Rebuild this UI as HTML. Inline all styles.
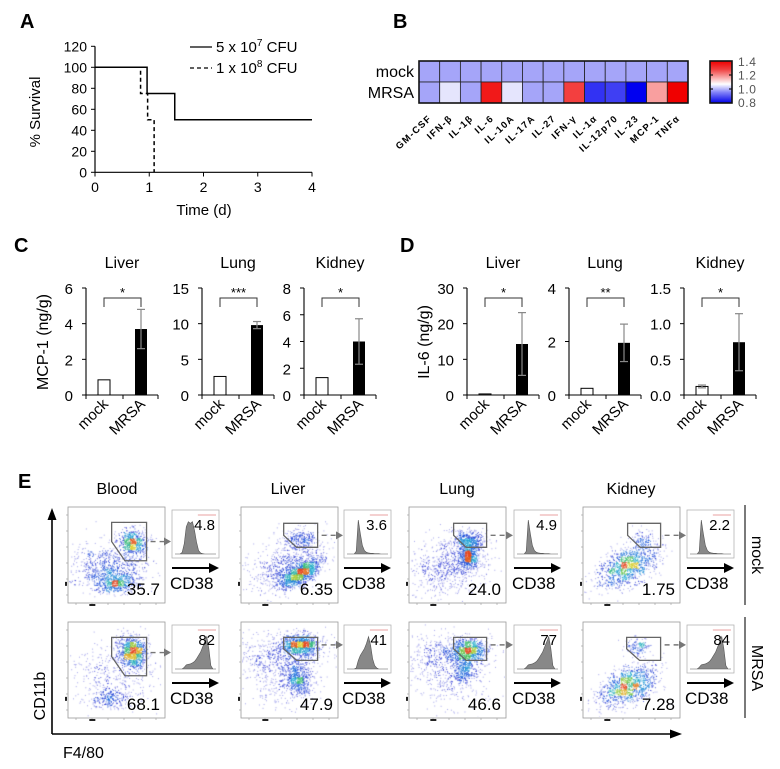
<!DOCTYPE html>
<html><head><meta charset="utf-8"><style>
body{margin:0;background:#fff;}
#wrap{position:relative;width:780px;height:769px;overflow:hidden;font-family:"Liberation Sans",sans-serif;}
svg{position:absolute;left:0;top:0;}
canvas{position:absolute;}
</style></head><body>
<div id="wrap">
<svg id="s" width="780" height="769" viewBox="0 0 780 769"></svg>
</div>
<script>
// ---------- data ----------
const survTimes = [0, 1, 2, 3, 4];
const survTicks = [0, 20, 40, 60, 80, 100, 120];
const solidT = [0, 0.96, 0.96, 1.47, 1.47, 4];
const solidV = [100, 100, 75, 75, 50, 50];
const dashT = [0, 0.84, 0.84, 0.97, 0.97, 1.09, 1.09];
const dashV = [100, 100, 75, 75, 50, 50, 0];

const cytokines = ["GM-CSF","IFN-β","IL-1β","IL-6","IL-10A","IL-17A","IL-27","IFN-γ","IL-1α","IL-12p70","IL-23","MCP-1","TNFα"];
const mockVals = [0.93,0.93,0.93,0.93,0.93,0.93,0.93,0.93,0.93,0.93,0.93,0.93,0.93];
const mrsaVals = [0.93,0.98,0.93,1.36,0.98,0.93,0.93,1.30,0.84,0.85,0.80,1.15,1.40];
const cbarTicks = ["1.4","1.2","1.0","0.8"];

const organs = ["Liver","Lung","Kidney"];
const mcpMax = [6,15,8];
const mcpTicks = [[0,2,4,6],[0,5,10,15],[0,2,4,6,8]];
const mcpMock = [0.85,2.6,1.3];
const mcpMockErr = [0,0,0];
const mcpMrsa = [3.7,9.8,4.0];
const mcpMrsaErr = [1.1,0.5,1.7];
const mcpStars = ["*","***","*"];
const il6Max = [30,4,1.5];
const il6Ticks = [[0,10,20,30],[0,2,4],[0,0.5,1.0,1.5]];
const il6TickFmt = [0,0,1];
const il6Mock = [0.3,0.25,0.12];
const il6MockErr = [0,0,0.02];
const il6Mrsa = [14.3,1.95,0.74];
const il6MrsaErr = [8.8,0.7,0.4];
const il6Stars = ["*","**","*"];

const tissues = ["Blood","Liver","Lung","Kidney"];
const mockPct = ["35.7","6.35","24.0","1.75"];
const mrsaPct = ["68.1","47.9","46.6","7.28"];
const mockCd38 = ["4.8","3.6","4.9","2.2"];
const mrsaCd38 = ["82","41","77","84"];
const histBlood = [0,0,0,0.05,0.3,0.8,0.95,0.9,0.95,0.7,0.35,0.1,0.03,0.01,0,0,0,0,0,0];
const histNarrow = [0,0,0,0,0.08,1,0.6,0.25,0.1,0.05,0.03,0.02,0.02,0.01,0.01,0.01,0,0,0,0];
const histMrsa = [0,0,0,0,0.05,0.12,0.14,0.15,0.18,0.22,0.3,0.4,0.5,0.65,0.8,0.95,0.6,0.1,0,0];
const histLiverMrsa = [0,0,0,0,0.03,0.25,0.4,0.5,0.6,0.75,0.95,0.7,0.3,0.1,0.03,0,0,0,0,0];

// ---------- helpers ----------
const NS="http://www.w3.org/2000/svg";
const S=document.getElementById('s');
function el(tag,attrs,parent,text){const e=document.createElementNS(NS,tag);for(const k in attrs)e.setAttribute(k,attrs[k]);if(text!==undefined)e.textContent=text;(parent||S).appendChild(e);return e;}
function line(x1,y1,x2,y2,st,w,parent,dash){const a={x1,y1,x2,y2,stroke:st||'#000','stroke-width':w||1};if(dash)a['stroke-dasharray']=dash;return el('line',a,parent);}

[["A",20,28],["B",393,28],["C",14,252],["D",400,252],["E",18,488]].forEach(p=>{
 const t=el('text',{x:p[1],y:p[2],'font-size':20,'font-weight':'bold'},S,p[0]);
 
 
});

// ---------- Panel A ----------
const gA=el('g',{});


const xA=t=>95+t*54.25, yA=v=>172.3-v*1.05;
line(95,yA(0),95,yA(120),'#000',1.2,gA);
line(95,172.3,312,172.3,'#000',1.2,gA);
survTicks.forEach(v=>{line(91,yA(v),95,yA(v),'#000',1,gA);
 el('text',{x:87,y:yA(v)+5,'font-size':14,'text-anchor':'end'},gA,String(v));});
survTimes.forEach(t=>{line(xA(t),172.3,xA(t),176.5,'#000',1,gA);
 el('text',{x:xA(t),y:192,'font-size':14,'text-anchor':'middle'},gA,String(t));});
const yl=el('text',{x:0,y:0,'font-size':15,'text-anchor':'middle',transform:'translate(40,112) rotate(-90)'},gA,'% Survival');

const xl=el('text',{x:204,y:215,'font-size':15,'text-anchor':'middle'},gA,'Time (d)');

function stepPath(T,V){return T.map((t,i)=>(i?'L':'M')+xA(t)+','+yA(V[i])).join(' ');}
const ps=el('path',{d:stepPath(solidT,solidV),fill:'none',stroke:'#000','stroke-width':1.5},gA);

const pd=el('path',{d:stepPath(dashT,dashV),fill:'none',stroke:'#000','stroke-width':1.5,'stroke-dasharray':'4,3'},gA);

line(190,47,212,47,'#000',1.3,gA);
line(190,68,212,68,'#000',1.3,gA,'4,3');
const lg1=el('text',{x:216,y:52,'font-size':15},gA);

lg1.innerHTML='5 x 10<tspan dy="-6" font-size="10">7</tspan><tspan dy="6"> CFU</tspan>';
const lg2=el('text',{x:216,y:73,'font-size':15},gA);

lg2.innerHTML='1 x 10<tspan dy="-6" font-size="10">8</tspan><tspan dy="6"> CFU</tspan>';

// ---------- Panel B ----------
const gB=el('g',{});


function hcol(v){let r,g,b;if(v<1){const t=Math.min(1,(1-v)/0.2);r=255*(1-t);g=255*(1-t);b=255-15*t;}else{const t=Math.min(1,(v-1)/0.4);r=255-15*t;g=255*(1-t);b=255*(1-t);}return `rgb(${r|0},${g|0},${b|0})`;}
const hx0=419,hw=(688-419)/13,hy0=61,hh=21;
[mockVals,mrsaVals].forEach((row,ri)=>{row.forEach((v,ci)=>{
 const r=el('rect',{x:hx0+ci*hw,y:hy0+ri*hh,width:hw,height:hh,fill:hcol(v),stroke:'#222','stroke-width':0.8},gB);
 
});});
el('rect',{x:hx0,y:hy0,width:hw*13,height:hh*2,fill:'none',stroke:'#111','stroke-width':1.6},gB);
["mock","MRSA"].forEach((n,i)=>{const t=el('text',{x:414,y:hy0+i*hh+16,'font-size':16,'text-anchor':'end'},gB,n);
 });
cytokines.forEach((c,i)=>{const cx=hx0+i*hw+hw/2+3;
 const t=el('text',{x:0,y:0,'font-size':9.5,'font-weight':'bold','text-anchor':'end','letter-spacing':'1.3',transform:`translate(${cx},119) rotate(-43)`},gB,c);
 });
const defs=el('defs',{});
const lgd=el('linearGradient',{id:'cb',x1:0,y1:0,x2:0,y2:1},defs);
[['0%','#f00000'],['20%','#f04040'],['55%','#ffffff'],['75%','#8080f8'],['100%','#0000e8']].forEach(s=>el('stop',{offset:s[0],'stop-color':s[1]},lgd));
const cbr=el('rect',{x:710,y:61,width:22,height:42,fill:'url(#cb)',stroke:'#111','stroke-width':1.6},gB);

[75,89].forEach(y=>{line(710,y,713,y,'#111',1.2,gB);line(729,y,732,y,'#111',1.2,gB);});
cbarTicks.forEach((t,i)=>{el('text',{x:738,y:66+i*13.7,'font-size':12,fill:'#555','letter-spacing':'0.6'},gB,t);});

// ---------- Panels C & D ----------
function barPanel(ax,max,ticks,fmt,mock,mockErr,mrsa,mrsaErr,star,title,name){
 const g=el('g',{});
 
 
 const y0=395,h=107,y=v=>y0-v/max*h,L=72;
 line(ax,y0,ax,y(max),'#000',1.1,g);
 line(ax,y0,ax+L,y0,'#000',1.1,g);
 [0,L/2+1,L].forEach(d=>line(ax+d,y0,ax+d,y0+4,'#000',1,g));
 ticks.forEach(v=>{line(ax-4,y(v),ax,y(v),'#000',1,g);
  el('text',{x:ax-13,y:y(v)+6,'font-size':15,'text-anchor':'end'},g,v.toFixed(fmt));});
 el('text',{x:ax+36,y:268,'font-size':16,'text-anchor':'middle'},g,title);
 const c1=ax+18,c2=ax+55,bw=12;
 const b1=el('rect',{x:c1-bw/2,y:y(mock),width:bw,height:y0-y(mock),fill:'#fff',stroke:'#000','stroke-width':1},g);
 
 const b2=el('rect',{x:c2-bw/2,y:y(mrsa),width:bw,height:y0-y(mrsa),fill:'#000'},g);
 
 [[c1,mock,mockErr],[c2,mrsa,mrsaErr]].forEach(e=>{if(e[2]>0){
  line(e[0],y(e[1]-e[2]),e[0],y(e[1]+e[2]),'#888',1.2,g);
  line(e[0]-4,y(e[1]+e[2]),e[0]+4,y(e[1]+e[2]),'#888',1.2,g);
  line(e[0]-4,y(e[1]-e[2]),e[0]+4,y(e[1]-e[2]),'#888',1.2,g);}});
 el('path',{d:`M${c1},307 L${c1},298 L${c2},298 L${c2},307`,fill:'none',stroke:'#333','stroke-width':1},g);
 el('text',{x:(c1+c2)/2,y:297,'font-size':13,'text-anchor':'middle'},g,star);
 [["mock",c1],["MRSA",c2]].forEach(l=>{const t=el('text',{x:0,y:0,'font-size':15,'text-anchor':'end',transform:`translate(${l[1]+5},405) rotate(-45)`},g,l[0]);
  });
}
const axC=[86,202,304], axD=[467,569,684];
organs.forEach((o,i)=>barPanel(axC[i],mcpMax[i],mcpTicks[i],0,mcpMock[i],mcpMockErr[i],mcpMrsa[i],mcpMrsaErr[i],mcpStars[i],o,'mcp1-'+o.toLowerCase()+'-chart'));
organs.forEach((o,i)=>barPanel(axD[i],il6Max[i],il6Ticks[i],il6TickFmt[i],il6Mock[i],il6MockErr[i],il6Mrsa[i],il6MrsaErr[i],il6Stars[i],o,'il6-'+o.toLowerCase()+'-chart'));
const cy=el('text',{x:0,y:0,'font-size':16,'text-anchor':'middle',transform:'translate(48,342) rotate(-90)'},S,'MCP-1 (ng/g)');


const dy=el('text',{x:0,y:0,'font-size':16,'text-anchor':'middle',transform:'translate(429,342) rotate(-90)'},S,'IL-6 (ng/g)');



// ---------- Panel E ----------
const gE=el('g',{});


const dotX=[68,241,409,583], dotY=[507,622], histX=[172,344,514,687], histY=[510,625];
const titleX=[117,288,457,631];
tissues.forEach((t,i)=>{const e=el('text',{x:titleX[i],y:494,'font-size':16,'text-anchor':'middle'},gE,t);
 });
line(52,734,52,518,'#000',1.6,gE);el('path',{d:'M52,508 L47.5,520 L56.5,520Z',fill:'#000'},gE);
line(52,734,672,734,'#000',1.6,gE);el('path',{d:'M682,734 L670,729.5 L670,738.5Z',fill:'#000'},gE);
const cd11=el('text',{x:0,y:0,'font-size':16,'text-anchor':'middle',transform:'translate(45,696) rotate(-90)'},gE,'CD11b');

const f48=el('text',{x:63,y:758,'font-size':16},gE,'F4/80');

line(745,505,745,605,'#333',1.3,gE);line(745,617,745,718,'#333',1.3,gE);
el('text',{x:0,y:0,'font-size':16,'text-anchor':'middle',transform:'translate(752,555) rotate(90)'},gE,'mock');
el('text',{x:0,y:0,'font-size':16,'text-anchor':'middle',transform:'translate(752,668) rotate(90)'},gE,'MRSA');

const gates=[[[0.45,0.16,0.81,0.56],[0.44,0.17,0.79,0.42],[0.46,0.17,0.8,0.42],[0.46,0.17,0.8,0.42]],
             [[0.45,0.16,0.81,0.56],[0.44,0.16,0.79,0.4],[0.46,0.16,0.8,0.4],[0.45,0.16,0.8,0.4]]];
const hists=[[histBlood,histNarrow,histNarrow,histNarrow],[histMrsa,histLiverMrsa,histMrsa,histMrsa]];
const pcts=[mockPct,mrsaPct], cd38=[mockCd38,mrsaCd38];
const W=97,H=96,HW=47,HH=48;
for(let r=0;r<2;r++)for(let c=0;c<4;c++){
 const x=dotX[c],y=dotY[r];
 const box=el('rect',{x,y,width:W,height:H,fill:'none',stroke:'#999','stroke-width':0.8},gE);
 
 for(let k=0;k<6;k++){line(x-2,y+8+k*16,x,y+8+k*16,'#999',0.6,gE);line(x+8+k*16,y+H,x+8+k*16,y+H+2,'#999',0.6,gE);}
 el('rect',{x:x-3,y:y+H*0.78,width:2,height:4,fill:'#222'},gE);
 el('rect',{x:x+W*0.22,y:y+H+1,width:6,height:2,fill:'#222'},gE);
 const g=gates[r][c],gx0=x+g[0]*W,gy0=y+g[1]*H,gx1=x+g[2]*W,gy1=y+g[3]*H;
 const gp=el('path',{d:`M${gx0},${gy0} L${gx1},${gy0} L${gx1},${gy1} L${gx0+(gx1-gx0)*0.38},${gy1} L${gx0},${gy0+(gy1-gy0)*0.5} Z`,fill:'none',stroke:'#666','stroke-width':1.3},gE);
 
 const ay=(gy0+gy1)/2-(r?4:0);
 line(gx1+4,ay,histX[c]-6,ay,'#777',1.4,gE,'5,4');
 el('path',{d:`M${histX[c]-1},${ay} L${histX[c]-8},${ay-4} L${histX[c]-8},${ay+4}Z`,fill:'#777'},gE);
 const pt=el('text',{x:x+W-5,y:y+H-8,'font-size':17,'text-anchor':'end'},gE,pcts[r][c]);
 
 const hx=histX[c],hy=histY[r];
 const hb=el('rect',{x:hx,y:hy,width:HW,height:HH,fill:'none',stroke:'#aaa','stroke-width':0.7},gE);
 
 const hd=hists[r][c],bw=(HW-6)/hd.length,base=hy+HH-4;
 let d=`M${hx+3},${base}`;hd.forEach((v,i)=>{d+=` L${hx+3+(i+0.5)*bw},${base-v*(HH-14)}`;});d+=` L${hx+HW-3},${base} Z`;
 el('path',{d,fill:'#888',stroke:'#555','stroke-width':0.6},gE);
 line(hx+HW*0.55,hy+5,hx+HW-3,hy+5,'#e08080',0.8,gE);
 el('text',{x:hx+HW-4,y:hy+20,'font-size':15,'text-anchor':'end'},gE,cd38[r][c]);
 const ly=r?683:568;
 line(hx,ly,hx+HW-8,ly,'#000',2,gE);
 el('path',{d:`M${hx+HW},${ly} L${hx+HW-10},${ly-5} L${hx+HW-10},${ly+5}Z`,fill:'#000'},gE);
 el('text',{x:hx-2,y:ly+21,'font-size':17},gE,'CD38');
}

let seed=12345;function rnd(){seed=(seed*1103515245+12345)%2147483648;return seed/2147483648;}
function gauss(){let u=rnd()||1e-6,v=rnd();return Math.sqrt(-2*Math.log(u))*Math.cos(2*Math.PI*v);}
const blobs=[
 [[[0.4,0.62,0.22,0.12,0,700],[0.48,0.78,0.1,0.05,0,400],[0.65,0.35,0.07,0.07,0,500]],
  [[0.45,0.62,0.2,0.12,-0.4,600],[0.6,0.68,0.12,0.05,-0.5,900],[0.6,0.32,0.1,0.06,0,250]],
  [[0.4,0.6,0.2,0.15,-0.3,700],[0.6,0.5,0.05,0.06,0,500],[0.6,0.33,0.08,0.05,0,400]],
  [[0.45,0.6,0.17,0.09,-0.5,1000],[0.6,0.32,0.08,0.05,0,80]]],
 [[[0.45,0.55,0.22,0.18,0,400],[0.42,0.78,0.1,0.05,0,200],[0.65,0.3,0.07,0.09,-0.3,800]],
  [[0.35,0.35,0.25,0.12,0,500],[0.6,0.22,0.1,0.06,0,800],[0.58,0.58,0.06,0.08,-0.4,400],[0.4,0.6,0.2,0.15,0,300]],
  [[0.35,0.35,0.25,0.12,0,500],[0.6,0.28,0.1,0.06,0,700],[0.55,0.5,0.05,0.08,0,250],[0.4,0.65,0.2,0.12,0,200]],
  [[0.45,0.65,0.16,0.09,-0.5,1000],[0.55,0.25,0.06,0.05,0,120]]]];
function cmap(t){const st=[[50,50,210],[20,90,220],[30,170,210],[60,190,90],[220,210,40],[230,70,30]];
 t=Math.max(0,Math.min(0.999,t))*(st.length-1);const i=Math.floor(t),f=t-i;const a=st[i],b=st[i+1];
 return `rgb(${a[0]+(b[0]-a[0])*f|0},${a[1]+(b[1]-a[1])*f|0},${a[2]+(b[2]-a[2])*f|0})`;}
const wrap=document.getElementById('wrap');
for(let r=0;r<2;r++)for(let c=0;c<4;c++){
 const cv=document.createElement('canvas');cv.width=W-2;cv.height=H-2;
 cv.style.left=(dotX[c]+1)+'px';cv.style.top=(dotY[r]+1)+'px';
 
 
 wrap.insertBefore(cv,S);
 const ctx=cv.getContext('2d');const pts=[];
 blobs[r][c].forEach(b=>{const ca=Math.cos(b[4]),sa=Math.sin(b[4]);for(let k=0;k<b[5];k++){const u=gauss()*b[2],v=gauss()*b[3];
  const px=(b[0]+u*ca-v*sa)*W,py=(b[1]+u*sa+v*ca)*H;if(px>0&&py>0&&px<W-2&&py<H-2)pts.push([px,py]);}});
 const G=16,grid=new Array(G*G).fill(0);pts.forEach(p=>grid[Math.floor(p[1]/H*G)*G+Math.floor(p[0]/W*G)]++);
 const mx=Math.max(...grid);
 pts.forEach(p=>{const d=grid[Math.floor(p[1]/H*G)*G+Math.floor(p[0]/W*G)]/mx;
  ctx.fillStyle=cmap(Math.pow(d,1.7));ctx.globalAlpha=d<0.1?0.45:0.8;ctx.fillRect(p[0],p[1],1,1);});
}
</script>
</body></html>
